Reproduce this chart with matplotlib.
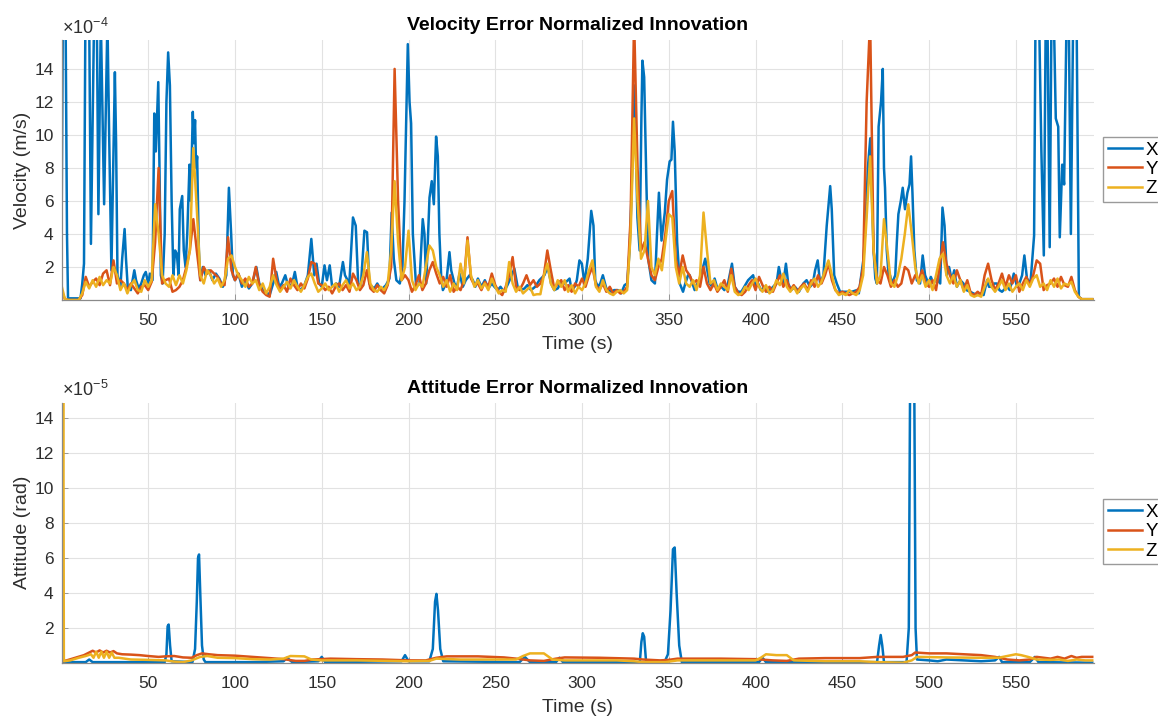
import matplotlib
matplotlib.use("Agg")
import matplotlib.pyplot as plt
import numpy as np

plt.rcParams["font.family"] = ["Liberation Sans", "DejaVu Sans"]
plt.rcParams["mathtext.fontset"] = "custom"
plt.rcParams["mathtext.rm"] = "Liberation Sans"

C_X, C_Y, C_Z = "#0072BD", "#D95319", "#EDB120"
TXT = "#2e2e2e"

# ---- velocity innovation, units of 1e-4 m/s ----
# X channel: (time s, value) samples
vel_x = [
    (0, 2.4), (0.8, 17), (2.4, 17), (3.2, 4), (3.8, 0.1), (11, 0.1), (12, 1.0), (13, 2.2),
    (13.8, 17), (16, 17), (17, 3.4), (18.8, 17), (20.4, 17), (21.3, 5.2), (22.7, 17), (24.6, 5.8),
    (26.5, 17), (27.5, 10), (28.8, 1.8), (30.8, 13.8), (31.5, 9.5), (32.3, 1.5), (34, 0.8), (35, 2.5),
    (36.4, 4.3), (37.2, 2.5), (38.2, 0.8), (40, 0.6), (42, 1.8), (43, 1.2), (44.5, 0.7), (46, 1.0),
    (47.5, 1.5), (48.6, 1.7), (50, 1.0), (51, 1.6), (52.5, 1.2), (53.5, 11.3), (54.4, 9.0), (55.8, 13.2),
    (56.5, 8.0), (57.3, 1.5), (58.3, 1.0), (59.5, 4.0), (60.5, 12.0), (61.5, 15.0), (62.5, 13.0), (63.5, 6.0),
    (64.5, 1.5), (65.5, 3.0), (66.5, 2.8), (67.5, 1.5), (68.2, 5.5), (69.6, 6.3), (70.5, 3.0), (71.5, 2.0),
    (72.5, 4.0), (73.8, 8.2), (74.5, 6.0), (75.7, 11.4), (76.3, 9.5), (77, 10.9), (77.6, 8.0), (78.2, 8.7),
    (79.2, 3.0), (80, 1.2), (81.5, 2.0), (83, 1.5), (85, 1.8), (87, 1.2), (89, 1.6), (91, 1.3),
    (93, 0.8), (95, 1.5), (96.5, 6.8), (97.8, 4.0), (98.8, 1.5), (100, 1.2), (102, 1.6), (104, 0.8),
    (106, 1.2), (108, 0.7), (110, 1.0), (112.3, 2.0), (114, 1.0), (116, 0.6), (118, 0.5), (120, 0.3),
    (122, 1.0), (123.8, 1.7), (125.5, 0.8), (127, 1.0), (129, 1.5), (131, 0.7), (133, 1.0), (134.5, 1.7),
    (136, 0.8), (138, 0.6), (140, 0.9), (142, 1.5), (144, 3.7), (145.7, 1.5), (147, 2.2), (148.5, 1.0),
    (150, 0.8), (151.6, 2.1), (153, 1.2), (154.6, 2.1), (156, 0.8), (158.4, 1.0), (160, 0.8), (162.2, 2.3),
    (163.4, 1.5), (165.9, 1.0), (168, 5.0), (169.6, 4.5), (171, 1.0), (172.5, 0.8), (174.6, 4.2), (176.1, 4.1),
    (177.4, 1.0), (179, 0.8), (180.3, 0.7), (182, 1.0), (184.1, 0.6), (186, 0.8), (187, 0.9), (189, 1.3),
    (190.3, 5.3), (191.5, 2.5), (193, 1.2), (195, 1.0), (196.5, 2.0), (197.7, 6.0), (199.6, 15.5), (200.6, 12.0),
    (201.5, 10.7), (202.5, 4.0), (203.4, 2.5), (204.4, 0.8), (206.3, 1.0), (208.2, 4.9), (209.2, 4.0), (210.2, 1.0),
    (212.1, 6.2), (213.4, 7.2), (214.6, 5.8), (215.9, 9.9), (216.9, 8.7), (217.8, 4.0), (218.8, 1.5), (219.8, 0.6),
    (221.7, 1.0), (223.6, 2.9), (224.6, 1.8), (226.5, 1.0), (228, 0.8), (229.4, 1.6), (231.3, 0.8), (233, 1.2),
    (235.2, 1.5), (237.1, 1.2), (238.5, 0.8), (240, 1.3), (242, 0.8), (244, 1.2), (246, 0.7), (248, 1.0),
    (249.5, 0.8), (251.4, 0.6), (253, 0.8), (255, 0.5), (257, 0.9), (259.1, 1.4), (261, 1.9), (262.9, 0.8),
    (265, 0.6), (266.8, 0.7), (268.5, 0.9), (270.6, 0.6), (273, 0.8), (275.4, 1.2), (278.3, 1.5), (280.2, 2.0),
    (282.2, 1.0), (284, 0.6), (286, 0.7), (288, 1.1), (289.9, 1.0), (292.8, 1.3), (294, 0.6), (295.7, 0.8),
    (297, 1.2), (298.5, 2.4), (299.9, 2.2), (301.4, 1.0), (303.3, 2.5), (305.3, 5.4), (306.6, 4.5), (307.6, 1.2),
    (309.1, 0.8), (310.5, 1.0), (312, 1.5), (314, 0.7), (316.8, 0.5), (318.5, 0.6), (320.7, 0.6), (322.5, 0.4),
    (324.5, 0.9), (326, 1.0), (327.4, 3.0), (328.4, 6.0), (329.4, 10.0), (330.3, 13.0), (331.9, 5.0), (333.2, 3.0),
    (334.2, 11.0), (334.8, 14.5), (335.8, 13.5), (337.1, 7.0), (338.1, 2.5), (340, 1.2), (342, 1.0), (343.2, 4.0),
    (344.3, 6.5), (345.8, 3.6), (347.7, 5.3), (349, 7.3), (350.5, 8.4), (351.5, 8.5), (352.4, 10.8), (353.4, 9.0),
    (354.8, 3.5), (356.3, 1.0), (358.2, 0.5), (359.5, 1.0), (361.1, 1.5), (362, 1.5), (364.9, 0.6), (366, 0.9),
    (367.7, 1.2), (369.7, 2.0), (371, 2.5), (373.5, 1.0), (375, 0.8), (376.4, 1.3), (378, 0.7), (380.3, 0.8),
    (382, 0.6), (384.1, 1.0), (386.4, 2.2), (388, 0.8), (389.9, 0.5), (391.8, 0.5), (393.5, 0.8), (395.7, 1.2),
    (398.6, 1.5), (400, 0.8), (401.5, 1.0), (403, 0.6), (405.3, 0.8), (407, 0.5), (409.2, 0.7), (411, 0.9),
    (412.1, 1.0), (413.4, 2.0), (414.9, 1.2), (416, 1.0), (417.5, 2.2), (418.8, 1.0), (420.5, 0.6), (422.7, 0.8),
    (425, 0.5), (427.5, 1.0), (429.4, 1.2), (431.4, 0.8), (433, 1.0), (434.3, 1.8), (435.8, 2.4), (437.2, 1.0),
    (439.1, 1.5), (441, 4.5), (443, 6.9), (443.9, 5.5), (445.3, 1.5), (446.8, 1.0), (448.7, 0.5), (451.6, 0.5),
    (455.5, 0.5), (458.4, 0.6), (459.5, 0.4), (460.9, 1.5), (462.2, 2.5), (463.6, 5.0), (464.7, 8.0), (466.1, 9.8),
    (467, 6.5), (468, 3.0), (469, 1.3), (469.9, 1.0), (470.9, 10.5), (472.3, 12.0), (473.3, 14.0), (474, 8.0),
    (474.6, 6.8), (475.6, 3.0), (476.7, 1.5), (477.5, 1.5), (478.6, 1.0), (480.5, 1.5), (481.4, 3.5), (482.3, 5.2),
    (483.7, 6.0), (484.8, 6.8), (486.1, 5.5), (487.5, 6.5), (488.7, 7.0), (489.6, 8.7), (490.4, 6.5), (491.5, 3.0),
    (492.9, 1.2), (494.8, 1.0), (496.3, 2.7), (497.7, 1.5), (499.6, 1.0), (501, 1.4), (502.5, 1.0), (504.4, 1.3),
    (506.4, 1.0), (507.7, 5.6), (508.9, 4.5), (510.2, 1.5), (511.5, 2.0), (513.1, 1.2), (514.5, 1.8), (516, 0.8),
    (518, 1.2), (519.8, 1.0), (521.5, 0.6), (523.7, 0.5), (525.5, 0.4), (527.6, 0.3), (529.5, 0.4), (531.4, 0.3),
    (533.4, 1.2), (534.5, 0.8), (536.3, 0.8), (537.5, 1.0), (539.1, 1.0), (540.5, 0.6), (542, 0.5), (544.9, 0.8),
    (546.5, 0.6), (548.8, 1.6), (550.7, 0.8), (552, 1.0), (553.6, 1.5), (554.9, 2.7), (556.4, 1.3), (558.4, 1.0),
    (559.5, 2.5), (560.5, 3.9), (561.3, 17), (563.4, 17), (564.7, 9.0), (566.1, 2.7), (567.2, 17), (568.2, 17),
    (569.5, 3.2), (570.5, 17), (571.9, 17), (573, 11.0), (574.4, 10.5), (575.3, 3.8), (576.7, 8.2), (577.8, 7.0),
    (579.2, 17), (580.5, 17), (581.7, 4.0), (583, 17), (585, 17), (586.3, 0.2), (587.9, 0.05), (594, 0.05),
]

# Y and Z channels on a 2 s grid
vel_grid_t = np.arange(0, 595, 2)
vel_y = [
    0.6, 0.05, 0.0, 0.0, 0.0, 0.0, 0.3, 1.4, 0.8, 1.1,
    1.3, 0.9, 1.6, 1.8, 0.9, 2.4, 1.0, 1.2, 1.0, 0.6,
    1.0, 0.7, 0.4, 0.8, 0.9, 0.6, 1.1, 3.5, 8.0, 1.0,
    1.2, 1.3, 0.5, 0.6, 0.8, 1.2, 2.0, 3.0, 4.9, 3.0,
    1.2, 2.0, 1.6, 1.8, 1.6, 1.4, 1.0, 0.9, 3.8, 1.8,
    1.2, 1.6, 1.0, 1.3, 0.8, 1.0, 2.0, 0.9, 0.5, 0.3,
    0.2, 2.5, 1.2, 0.6, 0.9, 0.5, 1.3, 0.9, 0.6, 1.0,
    0.7, 1.3, 2.3, 2.2, 1.0, 0.9, 0.6, 0.8, 0.4, 0.8,
    1.0, 0.6, 0.9, 0.5, 1.6, 1.2, 0.6, 0.9, 1.8, 0.7,
    0.5, 0.9, 0.6, 0.4, 0.9, 2.0, 14.0, 6.0, 1.2, 1.5,
    1.2, 0.5, 0.9, 1.5, 0.6, 1.0, 1.8, 2.3, 1.6, 1.0,
    1.4, 0.8, 1.5, 0.5, 0.8, 0.6, 1.2, 3.8, 1.3, 0.9,
    1.0, 0.6, 1.1, 0.8, 1.6, 0.9, 0.5, 0.3, 0.8, 1.5,
    2.6, 0.8, 0.6, 1.0, 1.5, 0.9, 1.2, 0.8, 1.0, 1.5,
    3.0, 1.8, 0.7, 1.0, 1.2, 0.6, 0.9, 0.5, 1.0, 0.8,
    1.3, 0.8, 1.5, 2.0, 0.9, 0.6, 1.0, 0.5, 0.8, 0.4,
    0.6, 0.4, 0.5, 0.8, 5.0, 17.0, 8.0, 3.0, 3.5, 2.5,
    1.5, 1.2, 2.0, 2.5, 4.0, 6.0, 6.6, 2.5, 1.5, 2.7,
    1.8, 1.5, 1.0, 1.2, 0.8, 2.0, 1.0, 0.6, 1.0, 0.5,
    0.8, 1.2, 0.5, 1.9, 0.8, 0.4, 0.3, 0.5, 0.9, 1.2,
    0.6, 1.4, 0.9, 0.5, 0.8, 0.5, 1.0, 1.5, 0.8, 1.2,
    0.6, 0.9, 0.5, 0.8, 1.0, 0.6, 1.2, 0.8, 1.5, 1.0,
    1.5, 2.2, 1.2, 0.6, 0.4, 0.5, 0.4, 0.3, 0.4, 0.5,
    0.8, 2.0, 12.0, 17.0, 3.0, 1.2, 1.0, 2.0, 1.5, 0.8,
    1.2, 0.8, 1.0, 2.0, 1.8, 1.0, 1.5, 1.2, 1.8, 1.0,
    0.8, 1.2, 0.6, 2.0, 3.5, 2.2, 1.5, 1.0, 1.8, 1.2,
    0.6, 1.2, 0.4, 0.3, 0.5, 0.3, 1.5, 2.2, 1.2, 0.6,
    1.0, 1.6, 0.8, 1.5, 1.0, 1.5, 0.5, 1.0, 1.4, 0.9,
    1.5, 2.4, 2.2, 0.6, 0.9, 1.0, 1.3, 0.8, 1.4, 0.9,
    0.8, 1.4, 0.6, 0.2, 0.05, 0.05, 0.05, 0.05,
]
vel_z = [
    0.9, 0.05, 0.0, 0.0, 0.0, 0.0, 0.4, 1.1, 0.7, 1.2,
    0.8, 1.4, 0.9, 1.2, 1.0, 2.0, 1.5, 0.6, 1.0, 0.4,
    0.9, 1.2, 0.6, 0.5, 1.2, 0.8, 1.2, 5.8, 4.0, 1.5,
    1.0, 0.8, 1.5, 0.9, 1.5, 1.0, 1.8, 3.0, 9.2, 5.5,
    1.5, 1.0, 1.8, 1.5, 1.0, 1.3, 0.8, 1.2, 2.5, 2.7,
    2.0, 1.5, 1.2, 0.8, 1.4, 1.0, 1.2, 0.6, 1.0, 0.4,
    0.8, 1.5, 0.9, 0.5, 0.8, 1.1, 0.7, 1.2, 0.8, 0.5,
    0.9, 1.4, 1.6, 1.0, 0.5, 0.7, 1.0, 0.6, 0.8, 1.0,
    0.5, 0.9, 1.2, 0.7, 1.0, 0.6, 0.8, 1.5, 2.9, 1.0,
    0.6, 0.5, 0.8, 0.6, 1.0, 3.0, 7.2, 3.5, 1.2, 2.0,
    4.2, 1.2, 0.6, 1.0, 0.8, 2.0, 3.3, 3.0, 2.0, 1.5,
    0.8, 1.2, 0.5, 1.0, 0.6, 2.2, 1.0, 3.6, 1.5, 0.8,
    1.2, 0.7, 1.0, 0.6, 1.3, 0.8, 0.4, 0.6, 0.5, 2.3,
    1.0, 0.5, 0.8, 0.4, 0.6, 0.8, 0.3, 0.35, 0.35, 1.5,
    2.2, 1.0, 0.6, 1.2, 0.8, 1.2, 0.5, 0.9, 0.4, 0.8,
    0.6, 1.0, 1.8, 2.4, 0.8, 0.5, 1.2, 0.6, 0.4, 0.3,
    0.5, 0.6, 0.4, 0.6, 4.0, 11.0, 6.0, 2.5, 3.0, 6.0,
    2.0, 1.5, 2.5, 1.8, 3.5, 5.2, 5.0, 2.0, 1.0, 2.0,
    1.0, 0.8, 1.2, 0.6, 1.5, 5.3, 3.0, 1.0, 1.2, 0.6,
    1.0, 0.8, 0.6, 1.5, 0.5, 0.3, 0.4, 0.8, 0.6, 1.0,
    1.3, 0.8, 0.5, 0.9, 0.4, 0.6, 1.2, 0.9, 1.6, 0.8,
    0.5, 0.8, 0.4, 0.7, 0.9, 0.5, 1.0, 1.3, 0.8, 1.1,
    1.8, 2.4, 1.5, 0.6, 0.3, 0.4, 0.3, 0.6, 0.4, 0.3,
    0.6, 1.5, 5.0, 8.7, 3.0, 1.0, 1.5, 4.9, 3.0, 1.0,
    0.8, 1.5, 2.5, 4.0, 5.8, 4.0, 2.0, 1.0, 1.5, 0.8,
    1.2, 0.6, 1.5, 2.5, 2.8, 1.5, 1.0, 1.5, 0.8, 1.2,
    0.5, 0.9, 0.3, 0.2, 0.3, 0.2, 0.8, 1.3, 0.8, 0.5,
    0.8, 1.2, 0.6, 1.0, 0.5, 0.8, 1.0, 0.6, 1.2, 0.8,
    1.3, 1.5, 0.8, 1.0, 0.6, 1.2, 0.8, 1.3, 0.7, 1.0,
    0.9, 1.1, 0.5, 0.2, 0.05, 0.05, 0.05, 0.05,
]

# ---- attitude innovation, units of 1e-5 rad ----
att_x = [
    (0.5, 0.05), (14, 0.05), (16, 0.2), (18, 0.05), (59.5, 0.05), (60.5, 0.5), (61.2, 2.1), (61.8, 2.2),
    (62.6, 1.0), (63.5, 0.1), (75.5, 0.05), (77, 0.8), (78, 3.5), (78.7, 6.0), (79.3, 6.2), (80, 4.0),
    (81, 1.0), (82, 0.2), (83, 0.05), (110, 0.05), (128, 0.1), (130, 0.3), (133, 0.05), (148, 0.1),
    (150, 0.35), (152, 0.05), (196, 0.1), (198, 0.45), (200, 0.1), (212, 0.1), (214, 0.8), (215.3, 3.5),
    (216.1, 3.95), (217, 3.0), (218.3, 0.8), (220, 0.1), (264, 0.05), (267, 0.35), (270, 0.05), (285, 0.05),
    (287, 0.3), (289, 0.05), (333.3, 0.05), (334.2, 1.2), (335, 1.7), (335.8, 1.5), (336.8, 0.2), (337.5, 0.05),
    (347.5, 0.05), (349.5, 0.5), (351, 3.0), (352.4, 6.5), (353.4, 6.6), (354.5, 4.0), (356, 1.0), (357.5, 0.05),
    (402, 0.05), (404, 0.3), (406, 0.05), (470, 0.05), (471.2, 1.0), (472.1, 1.6), (473, 1.0), (474, 0.05),
    (487, 0.05), (488.3, 2.0), (489.1, 17), (490.3, 25), (491.4, 17), (492.2, 2.0), (493, 0.2), (500, 0.15),
    (505, 0.1), (510, 0.2), (520, 0.15), (530, 0.1), (538, 0.15), (540.4, 0.35), (542, 0.05), (558, 0.05),
    (561, 0.35), (563, 0.05), (594, 0.02),
]
att_y = [
    (0.5, 0.1), (3, 0.15), (8, 0.3), (13, 0.45), (16, 0.6), (18, 0.7), (20, 0.6), (22, 0.72),
    (24, 0.6), (26, 0.7), (28, 0.6), (30, 0.68), (32, 0.55), (35, 0.5), (40, 0.48), (45, 0.45),
    (50, 0.4), (56, 0.35), (60, 0.38), (65, 0.4), (70, 0.32), (75, 0.3), (78, 0.45), (81, 0.55),
    (85, 0.5), (90, 0.45), (100, 0.42), (110, 0.35), (120, 0.28), (128, 0.22), (135, 0.12), (140, 0.12),
    (145, 0.2), (155, 0.25), (170, 0.22), (185, 0.2), (200, 0.15), (210, 0.15), (216, 0.3), (222, 0.38),
    (240, 0.38), (255, 0.32), (262, 0.25), (270, 0.15), (278, 0.12), (285, 0.25), (290, 0.32), (310, 0.3),
    (330, 0.25), (335, 0.2), (345, 0.15), (350, 0.18), (355, 0.25), (380, 0.25), (400, 0.22), (410, 0.15),
    (418, 0.12), (425, 0.25), (440, 0.28), (460, 0.28), (470, 0.35), (485, 0.35), (490, 0.45), (492, 0.6),
    (500, 0.55), (510, 0.55), (520, 0.5), (530, 0.45), (538, 0.35), (545, 0.2), (552, 0.15), (558, 0.2),
    (562, 0.35), (566, 0.3), (570, 0.25), (574, 0.35), (578, 0.25), (582, 0.4), (585, 0.3), (588, 0.35),
    (594, 0.35),
]
att_z = [
    (0.5, 0.2), (1.0, 20), (1.4, 0.1), (5, 0.15), (10, 0.3), (14, 0.4), (17, 0.5), (18.5, 0.3),
    (20, 0.65), (21.5, 0.3), (23, 0.65), (24.5, 0.3), (26, 0.65), (27.5, 0.3), (29, 0.6), (30.5, 0.3),
    (33, 0.3), (40, 0.2), (50, 0.18), (60, 0.15), (65, 0.08), (70, 0.05), (75, 0.15), (80, 0.35),
    (84, 0.4), (90, 0.3), (100, 0.28), (110, 0.22), (120, 0.2), (128, 0.25), (132, 0.4), (140, 0.38),
    (144, 0.2), (150, 0.15), (170, 0.15), (200, 0.1), (212, 0.12), (216, 0.25), (230, 0.2), (250, 0.2),
    (262, 0.2), (266, 0.4), (270, 0.55), (278, 0.55), (283, 0.2), (290, 0.15), (320, 0.15), (330, 0.1),
    (335, 0.05), (348, 0.05), (355, 0.15), (380, 0.15), (400, 0.15), (403, 0.3), (406, 0.5), (412, 0.45),
    (418, 0.45), (422, 0.15), (440, 0.1), (460, 0.1), (470, 0.05), (485, 0.02), (490, 0.15), (493, 0.35),
    (510, 0.32), (530, 0.3), (540, 0.3), (545, 0.4), (550, 0.5), (553, 0.45), (557, 0.35), (562, 0.2),
    (570, 0.18), (575, 0.2), (580, 0.12), (585, 0.2), (590, 0.15), (594, 0.15),
]

x_ticks = [50, 100, 150, 200, 250, 300, 350, 400, 450, 500, 550]
y_ticks = [2, 4, 6, 8, 10, 12, 14]
labels = ["X", "Y", "Z"]


def style_axes(ax, ytop, exponent, title, ylabel, legend_top):
    ax.set_xlim(0.3, 595)
    ax.set_ylim(0, ytop)
    ax.set_xticks(x_ticks)
    ax.set_yticks(y_ticks)
    ax.grid(True, color="#e2e2e2", linewidth=0.8)
    ax.set_axisbelow(True)
    for side in ("top", "right"):
        ax.spines[side].set_visible(False)
    for side in ("left", "bottom"):
        ax.spines[side].set_color("#8a8a8a")
        ax.spines[side].set_linewidth(0.9)
    ax.tick_params(direction="in", length=4, width=0.6, color="#8a8a8a",
                   labelsize=12.5, labelcolor=TXT)
    ax.tick_params(axis="x", pad=9)
    ax.tick_params(axis="y", pad=6)
    ax.set_xlabel("Time (s)", fontsize=14, color=TXT, labelpad=6)
    ax.set_ylabel(ylabel, fontsize=14, color=TXT, labelpad=2)
    ax.set_title(title, fontsize=14, fontweight="bold", color="black", pad=7)
    ax.text(0.0, 1.008, r"$\mathregular{\times10^{%d}}$" % exponent, transform=ax.transAxes,
            fontsize=13, color=TXT, va="bottom", ha="left")
    leg = ax.legend(loc="upper left", bbox_to_anchor=(0.9525, legend_top),
                    bbox_transform=fig.transFigure, fancybox=False, framealpha=1,
                    edgecolor="#9a9a9a", fontsize=13.5, handlelength=1.85, handletextpad=0.15,
                    borderpad=0.25, labelspacing=0.12, borderaxespad=0)
    leg.get_frame().set_linewidth(1.0)


fig = plt.figure(figsize=(11.58, 7.16), dpi=100)
ax1 = fig.add_axes([0.0535, 0.581, 0.8912, 0.3631])
ax2 = fig.add_axes([0.0535, 0.074, 0.8912, 0.3638])

LW = 1.8
vx = np.array(vel_x)
ax1.plot(vx[:, 0], vx[:, 1], color=C_X, lw=LW, label=labels[0])
ax1.plot(vel_grid_t, vel_y, color=C_Y, lw=LW, label=labels[1])
ax1.plot(vel_grid_t, vel_z, color=C_Z, lw=LW, label=labels[2])
style_axes(ax1, 15.75, -4, "Velocity Error Normalized Innovation", "Velocity (m/s)", 0.809)

for series, color, name in zip((att_x, att_y, att_z), (C_X, C_Y, C_Z), labels):
    arr = np.array(series)
    ax2.plot(arr[:, 0], arr[:, 1], color=color, lw=LW, label=name)
style_axes(ax2, 14.88, -5, "Attitude Error Normalized Innovation", "Attitude (rad)", 0.303)

fig.savefig("out.png", dpi=100)
